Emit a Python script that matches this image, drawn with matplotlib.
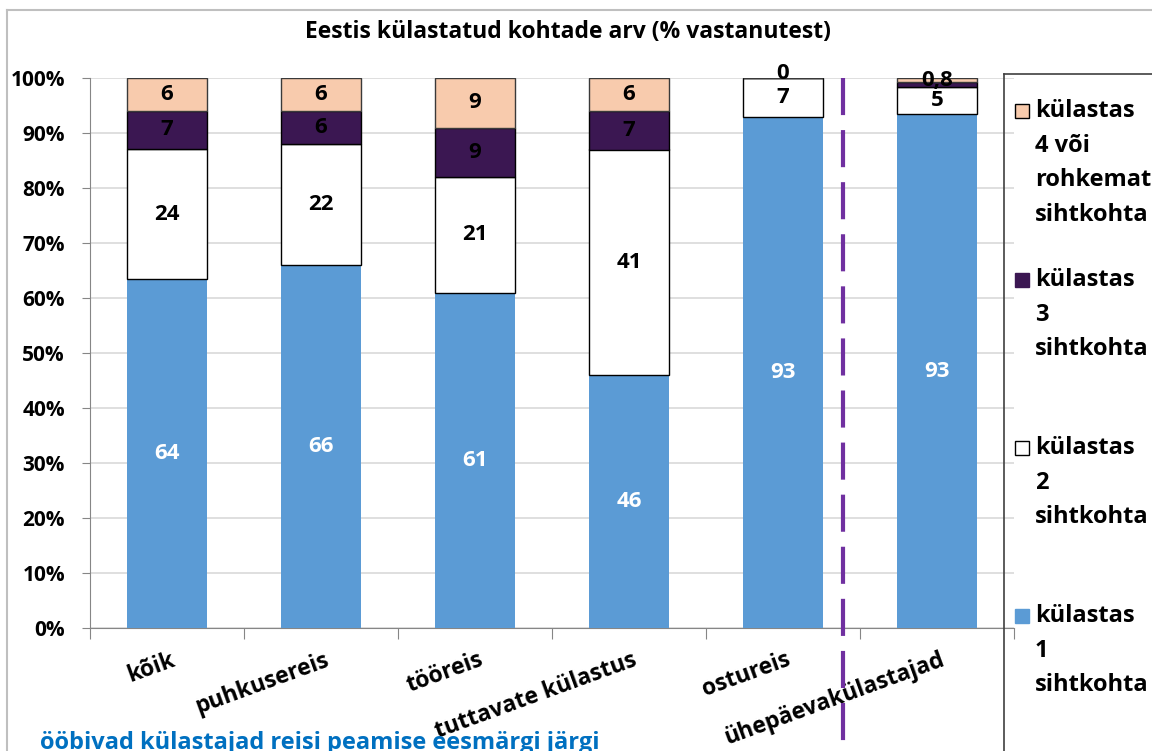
import numpy as np
import matplotlib
matplotlib.use('Agg')
import matplotlib.pyplot as plt
from matplotlib.patches import Rectangle
from matplotlib.lines import Line2D
from matplotlib.transforms import ScaledTranslation, blended_transform_factory

plt.rcParams['font.family'] = ['Open Sans', 'DejaVu Sans']
plt.rcParams['font.weight'] = 'bold'

title = 'Eestis külastatud kohtade arv (% vastanutest)'
note = 'ööbivad külastajad reisi peamise eesmärgi järgi'
categories = ['kõik', 'puhkusereis', 'tööreis', 'tuttavate külastus', 'ostureis', 'ühepäevakülastajad']

# shares by number of places visited (bottom -> top)
visit1 = [64, 66, 61, 46, 93, 93]
visit2 = [24, 22, 21, 41, 7, 5]
visit3 = [7, 6, 9, 7, 0, 0.8]
visit4 = [6, 6, 9, 6, 0, 0.8]
series = ['külastas\n1\nsihtkohta', 'külastas\n2\nsihtkohta',
          'külastas\n3\nsihtkohta', 'külastas\n4 või\nrohkemat\nsihtkohta']
colors = ['#5B9BD5', '#FFFFFF', '#3B1752', '#F8CBAD']
edges = ['none', '#000000', '#000000', '#3a3a3a']
yticks = [0, 10, 20, 30, 40, 50, 60, 70, 80, 90, 100]

W, H = 1152, 751
def fx(x):
    return x / W
def fy(y):
    return 1 - y / H

def fmt(v):
    return str(int(v)) if v == int(v) else str(v).replace('.', ',')

data = np.array([visit1, visit2, visit3, visit4], dtype=float)
frac = data / data.sum(axis=0)

fig = plt.figure(figsize=(W / 100, H / 100), dpi=100)
ax = fig.add_axes([fx(90), fy(628), 924 / W, 550 / H])

x = np.arange(len(categories))
bottom = np.zeros(len(categories))
for i in range(4):
    ax.bar(x, frac[i], bottom=bottom, width=0.52, color=colors[i],
           edgecolor=edges[i], linewidth=1, zorder=3)
    for j in range(len(categories)):
        v = data[i, j]
        yc = bottom[j] + frac[i, j] / 2
        if i == 2 and v < 1:
            continue  # tiny segment: its label sits under the one above
        if i == 3 and v == 0:
            yc += 0.008
        ax.text(x[j], yc, fmt(v), ha='center', va='center',
                fontsize=16, fontweight='bold',
                color='white' if i == 0 else 'black', zorder=5)
    bottom += frac[i]

ax.set_xlim(-0.5, 5.5)
ax.set_ylim(0, 1)
ax.set_yticks(np.array(yticks) / 100)
ax.set_yticklabels([f'{t}%' for t in yticks], fontsize=15, fontweight='bold')
ax.yaxis.grid(True, color='#D9D9D9', linewidth=1.2, zorder=0)
ax.tick_params(axis='y', length=6, color='#868686', pad=12)
ax.set_xticks(np.arange(-0.5, 6, 1))
ax.set_xticklabels([])
ax.tick_params(axis='x', length=8, color='#868686')
for s in ['top', 'right']:
    ax.spines[s].set_visible(False)
for s in ['left', 'bottom']:
    ax.spines[s].set_color('#868686')

trans = blended_transform_factory(ax.transData, ax.transAxes) + \
    ScaledTranslation(3 / 100, -20 / 100, fig.dpi_scale_trans)
for j, name in enumerate(categories):
    ax.text(x[j], 0, name, transform=trans, rotation=20, rotation_mode='anchor',
            ha='right', va='top', fontsize=16.5, fontweight='bold')

# dashed separator between overnight trips and day visitors
sep = blended_transform_factory(ax.transData, ax.transAxes)
ax.plot([4.39, 4.39], [1.0, -0.23], transform=sep, color='#7030A0', linewidth=3,
        linestyle=(0, (8.9, 3.6)), clip_on=False, zorder=6)

fig.text(fx(568), fy(32), title, ha='center', va='center', fontsize=16.5, fontweight='bold')
fig.text(fx(40), fy(743), note, ha='left', va='center', fontsize=17,
         fontweight='bold', color='#0070C0')

# outer chart border
fig.add_artist(Line2D([fx(7), fx(1152)], [fy(10), fy(10)], color='#BFBFBF', linewidth=1.5))
fig.add_artist(Line2D([fx(7), fx(7)], [fy(10), fy(751)], color='#BFBFBF', linewidth=1.5))

# legend box, drawn by hand
fig.add_artist(Line2D([fx(1004), fx(1152)], [fy(74), fy(74)], color='#404040', linewidth=1.2))
fig.add_artist(Line2D([fx(1004), fx(1004)], [fy(74), fy(751)], color='#404040', linewidth=1.2))
entry_y = [616, 448, 280, 111]
for i in range(4):
    y0 = entry_y[i]
    fig.add_artist(Rectangle((fx(1015), fy(y0 + 7)), 14 / W, 14 / H,
                             facecolor=colors[i],
                             edgecolor='#000000' if i in (1, 3) else colors[i],
                             linewidth=1))
    for k, line in enumerate(series[i].split('\n')):
        fig.text(fx(1035), fy(y0 + k * 34.6), line, ha='left', va='center',
                 fontsize=17, fontweight='bold')

fig.savefig('out.png', dpi=100)
